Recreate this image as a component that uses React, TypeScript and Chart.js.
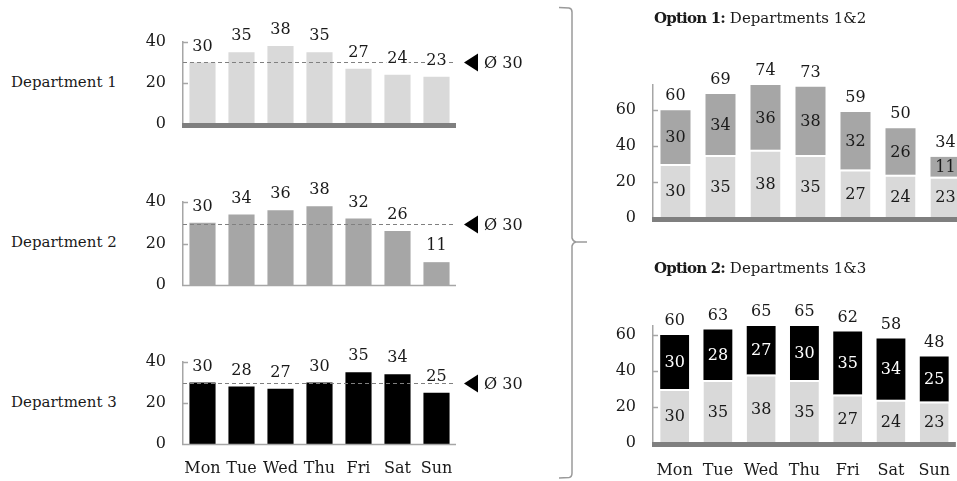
import React, { useEffect, useRef } from "react";
import { Chart, registerables } from "chart.js";

Chart.register(...registerables);

// ---- data ----
const days = ["Mon", "Tue", "Wed", "Thu", "Fri", "Sat", "Sun"];
const dept1 = [30, 35, 38, 35, 27, 24, 23];
const dept2 = [30, 34, 36, 38, 32, 26, 11];
const dept3 = [30, 28, 27, 30, 35, 34, 25];
const deptTicks = [0, 20, 40];
const optionTicks = [0, 20, 40, 60];

// ---- styling ----
const FONT_FAMILY = "'DejaVu Serif', serif";
const TEXT = "#1a1a1a";
const LIGHT = "#d9d9d9";
const MID = "#a6a6a6";
const DARK = "#000000";
const AXIS = "#a6a6a6";
const VALUE_SIZE = 16;
// room below the plot when no day names are shown (fits the "0" tick label)
const BOTTOM_GAP = 30;

const mean = (arr: number[]) => arr.reduce((a, b) => a + b, 0) / arr.length;
const sumSeries = (a: number[], b: number[]) => a.map((v, i) => v + b[i]);

type DecorOpts = {
  innerTicks: number[];
  thickBase: boolean;
  avg: number | null;
  mode: "above" | "stacked";
  labelColors: string[];
  totalOffset: number;
  aboveOffset: number;
};

// Draws axis decorations, the average marker and the value labels.
const decor = {
  id: "decor",
  afterDatasetsDraw(chart: any, _args: any, opts: DecorOpts) {
    const ctx: CanvasRenderingContext2D = chart.ctx;
    const { left, right, bottom } = chart.chartArea;
    const yScale = chart.scales.y;
    ctx.save();

    // short tick marks pointing into the plot
    ctx.strokeStyle = AXIS;
    ctx.lineWidth = 1.5;
    for (const v of opts.innerTicks) {
      const py = Math.round(yScale.getPixelForValue(v)) + 0.5;
      ctx.beginPath();
      ctx.moveTo(left, py);
      ctx.lineTo(left + 5, py);
      ctx.stroke();
    }

    // category baseline
    if (opts.thickBase) {
      ctx.fillStyle = "#7f7f7f";
      ctx.fillRect(left - 1, bottom - 1, right - left + 1, 5);
    } else {
      ctx.beginPath();
      ctx.moveTo(left - 1, bottom + 0.5);
      ctx.lineTo(right, bottom + 0.5);
      ctx.stroke();
    }

    ctx.font = `${VALUE_SIZE}px ${FONT_FAMILY}`;
    ctx.textAlign = "center";
    ctx.textBaseline = "middle";

    // dashed average line with marker
    if (opts.avg != null) {
      const ay = Math.round(yScale.getPixelForValue(opts.avg)) + 0.5;
      ctx.strokeStyle = "#808080";
      ctx.lineWidth = 1;
      ctx.setLineDash([4, 3]);
      ctx.beginPath();
      ctx.moveTo(left, ay);
      ctx.lineTo(right, ay);
      ctx.stroke();
      ctx.setLineDash([]);
      ctx.fillStyle = DARK;
      ctx.beginPath();
      ctx.moveTo(right + 8, ay);
      ctx.lineTo(right + 22, ay - 9);
      ctx.lineTo(right + 22, ay + 9);
      ctx.closePath();
      ctx.fill();
      ctx.fillStyle = TEXT;
      ctx.textAlign = "left";
      ctx.fillText(`Ø ${Math.round(opts.avg)}`, right + 28, ay + 1);
      ctx.textAlign = "center";
    }

    const datasets = chart.data.datasets;
    if (opts.mode === "above") {
      const meta = chart.getDatasetMeta(0);
      meta.data.forEach((el: any, i: number) => {
        const txt = String(datasets[0].data[i]);
        const ty = el.y - opts.aboveOffset;
        const w = ctx.measureText(txt).width;
        ctx.fillStyle = "#ffffff";
        ctx.fillRect(el.x - w / 2 - 1, ty - 6, w + 2, 12);
        ctx.fillStyle = TEXT;
        ctx.fillText(txt, el.x, ty + 1);
      });
    } else {
      datasets.forEach((ds: any, d: number) => {
        const meta = chart.getDatasetMeta(d);
        meta.data.forEach((el: any, i: number) => {
          ctx.fillStyle = opts.labelColors[d];
          ctx.fillText(String(ds.data[i]), el.x, (el.y + el.base) / 2 + 1);
        });
      });
      const topMeta = chart.getDatasetMeta(datasets.length - 1);
      topMeta.data.forEach((el: any, i: number) => {
        const total = datasets.reduce((s: number, ds: any) => s + ds.data[i], 0);
        ctx.fillStyle = TEXT;
        ctx.fillText(String(total), el.x, el.y - opts.totalOffset);
      });
    }
    ctx.restore();
  },
};

type PanelSpec = {
  yWidth: number;
  xHeight: number;
  xPadding: number;
  padTop: number;
  padRight: number;
  showDays: boolean;
  yMax: number;
  tickValues: number[];
  barPct: number;
  datasets: any[];
  stacked: boolean;
  decor: DecorOpts;
};

function buildConfig(p: PanelSpec): any {
  const tickFont = { family: FONT_FAMILY, size: VALUE_SIZE };
  return {
    type: "bar",
    data: {
      labels: days,
      datasets: p.datasets.map((ds) => ({
        ...ds,
        barPercentage: p.barPct,
        categoryPercentage: 1,
      })),
    },
    options: {
      responsive: false,
      animation: false,
      devicePixelRatio: 1,
      layout: {
        padding: { top: p.padTop, right: p.padRight, left: 0, bottom: 0 },
      },
      plugins: {
        legend: { display: false },
        tooltip: { enabled: false },
        decor: p.decor,
      },
      scales: {
        x: {
          display: p.showDays,
          stacked: p.stacked,
          grid: { display: false, drawTicks: false },
          border: { display: false },
          ticks: {
            font: tickFont,
            color: TEXT,
            padding: p.xPadding,
            maxRotation: 0,
            minRotation: 0,
            autoSkip: false,
          },
          afterFit: (s: any) => {
            s.height = p.xHeight;
          },
        },
        y: {
          stacked: p.stacked,
          min: 0,
          max: p.yMax,
          grid: { display: false, drawTicks: false },
          border: { display: true, color: AXIS, width: 1.5 },
          ticks: { font: tickFont, color: TEXT, padding: 17 },
          afterBuildTicks: (s: any) => {
            s.ticks = p.tickValues.map((v) => ({ value: v }));
          },
          afterFit: (s: any) => {
            s.width = p.yWidth;
          },
        },
      },
    },
    plugins: [decor],
  };
}

function BarPanel(props: { left: number; plotTop: number; plotH: number; width: number; spec: PanelSpec }) {
  const ref = useRef<HTMLCanvasElement>(null);
  const top = props.plotTop - props.spec.padTop;
  const height = props.spec.padTop + props.plotH + props.spec.xHeight;
  useEffect(() => {
    const chart = new Chart(ref.current as HTMLCanvasElement, buildConfig(props.spec));
    return () => chart.destroy();
  }, []);
  return (
    <canvas
      ref={ref}
      width={props.width}
      height={height}
      style={{ position: "absolute", left: props.left, top, width: props.width, height }}
    />
  );
}

function deptSpec(values: number[], color: string, thickBase: boolean, showDays: boolean): PanelSpec {
  return {
    yWidth: 43,
    xHeight: showDays ? 36 : BOTTOM_GAP,
    xPadding: 15,
    padTop: 30,
    padRight: 90,
    showDays,
    yMax: deptTicks[deptTicks.length - 1],
    tickValues: deptTicks,
    barPct: 0.67,
    stacked: false,
    datasets: [{ data: values, backgroundColor: color }],
    decor: {
      innerTicks: deptTicks.slice(1),
      thickBase,
      avg: mean(values),
      mode: "above",
      labelColors: [TEXT],
      totalOffset: 14,
      aboveOffset: 17,
    },
  };
}

function optionSpec(upper: number[], upperColor: string, upperText: string, showDays: boolean): PanelSpec {
  const totals = sumSeries(dept1, upper);
  return {
    yWidth: 53,
    xHeight: showDays ? 37 : BOTTOM_GAP,
    xPadding: 18,
    padTop: 40,
    padRight: 0,
    showDays,
    yMax: Math.max(...totals),
    tickValues: optionTicks,
    barPct: 0.667,
    stacked: true,
    datasets: [
      {
        data: dept1,
        backgroundColor: LIGHT,
        borderColor: "#ffffff",
        borderWidth: { top: 2, left: 0, right: 0, bottom: 0 },
        borderSkipped: "bottom",
      },
      { data: upper, backgroundColor: upperColor },
    ],
    decor: {
      innerTicks: optionTicks.slice(1),
      thickBase: true,
      avg: null,
      mode: "stacked",
      labelColors: [TEXT, upperText],
      totalOffset: 14,
      aboveOffset: 17,
    },
  };
}

const PX_PER_UNIT = 1.8;
const DEPT_PLOT_H = 82;
const opt1Max = Math.max(...sumSeries(dept1, dept2));
const opt2Max = Math.max(...sumSeries(dept1, dept3));

const labelStyle: React.CSSProperties = {
  position: "absolute",
  fontFamily: FONT_FAMILY,
  fontSize: 15,
  lineHeight: "20px",
  color: TEXT,
  whiteSpace: "nowrap",
};

const boldStyle: React.CSSProperties = { fontSize: 15, letterSpacing: -0.8 };

export default function App() {
  const opt1PlotH = Math.round(opt1Max * PX_PER_UNIT);
  const opt2PlotH = Math.round(opt2Max * PX_PER_UNIT);
  return (
    <div
      style={{
        position: "fixed",
        left: 0,
        top: 0,
        width: 957,
        height: 481,
        overflow: "hidden",
        background: "#ffffff",
      }}
    >
      <div style={{ ...labelStyle, left: 11, top: 72 }}>Department 1</div>
      <div style={{ ...labelStyle, left: 11, top: 232 }}>Department 2</div>
      <div style={{ ...labelStyle, left: 11, top: 392 }}>Department 3</div>

      <BarPanel left={140} plotTop={42} plotH={DEPT_PLOT_H} width={406} spec={deptSpec(dept1, LIGHT, true, false)} />
      <BarPanel left={140} plotTop={202} plotH={DEPT_PLOT_H + 1} width={406} spec={deptSpec(dept2, MID, false, false)} />
      <BarPanel left={140} plotTop={362} plotH={DEPT_PLOT_H} width={406} spec={deptSpec(dept3, DARK, false, true)} />

      <svg width={957} height={481} style={{ position: "absolute", left: 0, top: 0 }}>
        <path
          d="M559 7.5 L569 8 Q572 8.5 572 12 L572 238 Q573 241.5 576 242 L587 242 M576 242 Q573 242.5 572 246 L572 473 Q572 477 569 477.5 L559 478"
          fill="none"
          stroke="#9a9a9a"
          strokeWidth={1.5}
        />
      </svg>

      <div style={{ ...labelStyle, left: 654, top: 8 }}>
        <b style={boldStyle}>Option 1:</b> Departments 1&amp;2
      </div>
      <div style={{ ...labelStyle, left: 654, top: 258 }}>
        <b style={boldStyle}>Option 2:</b> Departments 1&amp;3
      </div>

      <BarPanel left={600} plotTop={218 - opt1PlotH} plotH={opt1PlotH} width={368} spec={optionSpec(dept2, MID, TEXT, false)} />
      <BarPanel left={600} plotTop={443 - opt2PlotH} plotH={opt2PlotH} width={368} spec={optionSpec(dept3, DARK, "#ffffff", true)} />
    </div>
  );
}
